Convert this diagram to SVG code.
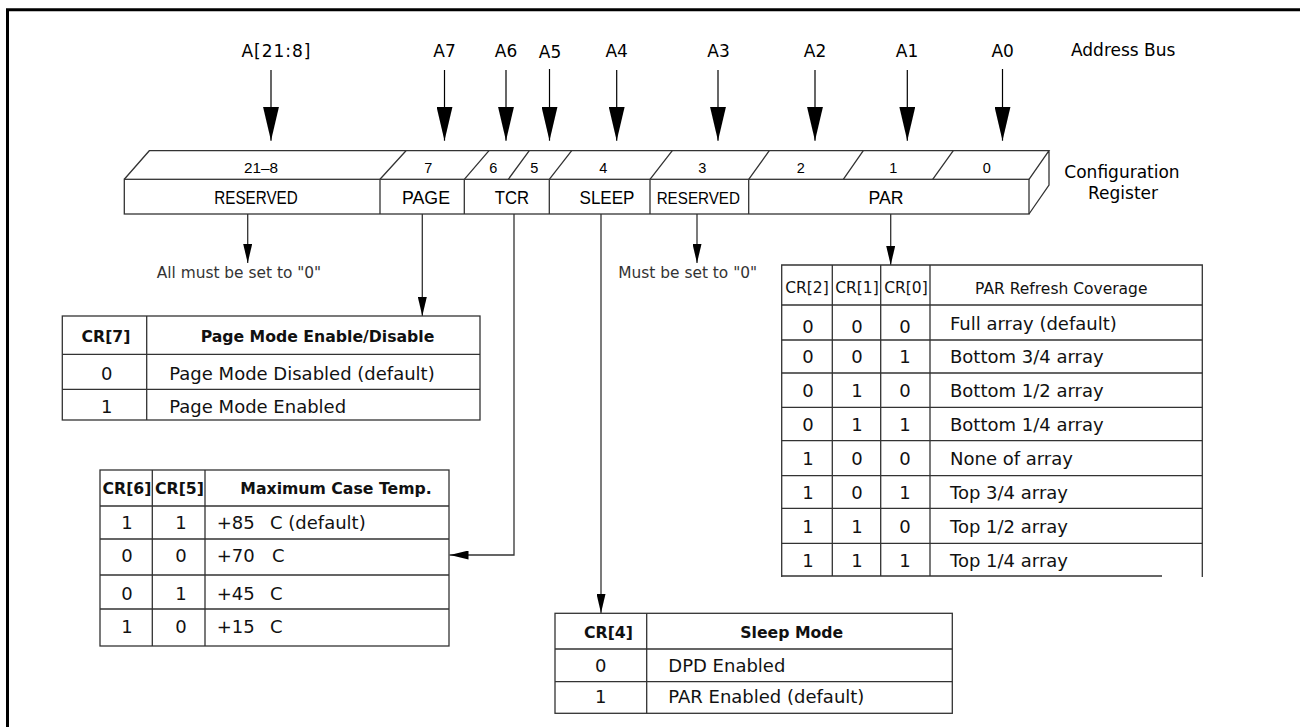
<svg xmlns="http://www.w3.org/2000/svg" width="1300" height="727" viewBox="0 0 1300 727">
<defs>
<marker id="bigArrow" markerUnits="userSpaceOnUse" viewBox="0 0 34 16" refX="34" refY="8" markerWidth="34" markerHeight="16" orient="auto"><path d="M0,0 L34,8 L0,16 z" fill="#000"/></marker>
<marker id="smallArrow" markerUnits="userSpaceOnUse" viewBox="0 0 19 9" refX="19" refY="4.5" markerWidth="19" markerHeight="9" orient="auto"><path d="M0,0 L19,4.5 L0,9 z" fill="#000"/></marker>
</defs>
<style>
.addr{font-family:"DejaVu Sans",Verdana,sans-serif;font-size:17px;fill:#000;text-anchor:middle}
.reg{font-family:"Liberation Sans Narrow","Liberation Sans",Arial,sans-serif;fill:#000;text-anchor:middle}
.bit{font-size:14.5px}
.lbl{font-size:18.6px}
.lbls{font-size:16.3px}
.t{font-family:"DejaVu Sans",Verdana,sans-serif;font-size:18px;fill:#111}
.th{font-family:"DejaVu Sans",Verdana,sans-serif;font-size:15.7px;font-weight:bold;fill:#111}
.tr{font-family:"DejaVu Sans",Verdana,sans-serif;font-size:15.5px;fill:#111}
.c{text-anchor:middle}
.note{font-family:"DejaVu Sans",Verdana,sans-serif;font-size:15.4px;fill:#333}
.grid{fill:none;stroke:#333;stroke-width:1.3}
.wire{fill:none;stroke:#333;stroke-width:1.3;marker-end:url(#smallArrow)}
.bus{fill:none;stroke:#000;stroke-width:1.2;marker-end:url(#bigArrow)}
</style>
<rect x="0" y="0" width="1300" height="727" fill="#fff"/>
<path d="M7.5,727 V9.7 H1300" fill="none" stroke="#000" stroke-width="3"/>

<g id="address-bus">
<text class="addr" x="276" y="56.7" textLength="69">A[21:8]</text>
<text class="addr" x="444.5" y="56.7">A7</text>
<text class="addr" x="506" y="56.7">A6</text>
<text class="addr" x="550" y="57.7">A5</text>
<text class="addr" x="616.7" y="56.7">A4</text>
<text class="addr" x="718.5" y="56.7">A3</text>
<text class="addr" x="815" y="56.7">A2</text>
<text class="addr" x="907" y="56.7">A1</text>
<text class="addr" x="1002.7" y="56.7">A0</text>
<text class="addr" x="1071" y="56" style="text-anchor:start">Address Bus</text>
</g>

<g id="config-register">
<rect class="grid" x="124.3" y="179.3" width="904.7" height="34.7"/>
<path class="grid" d="M124.3,179.3 L149.3,150.7 H1049 L1029,179.3 M1049,150.7 V185 L1029,214"/>
<path class="grid" d="M380,179.3 L406,150.7 M464.3,179.3 L489,150.7 M508.3,179.3 L529.3,150.7 M549.3,179.3 L571.7,150.7 M650,179.3 L672.3,150.7 M748.7,179.3 L769.3,150.7 M843.3,179.3 L863.3,150.7 M932.7,179.3 L953.3,150.7"/>
<path class="grid" d="M380,179.3 V214 M464.3,179.3 V214 M549.3,179.3 V214 M650,179.3 V214 M748.7,179.3 V214"/>
<text class="reg bit" x="261" y="173.3" textLength="34" lengthAdjust="spacingAndGlyphs">21–8</text>
<text class="reg bit" x="428.3" y="173.3">7</text>
<text class="reg bit" x="493.3" y="173.3">6</text>
<text class="reg bit" x="534.3" y="173.3">5</text>
<text class="reg bit" x="603.3" y="173.3">4</text>
<text class="reg bit" x="702.3" y="173.3">3</text>
<text class="reg bit" x="800.7" y="173.3">2</text>
<text class="reg bit" x="893.3" y="173.3">1</text>
<text class="reg bit" x="986.7" y="173.3">0</text>
<text class="reg lbl" x="256" y="204" textLength="83.4" lengthAdjust="spacingAndGlyphs">RESERVED</text>
<text class="reg lbl" x="426" y="204" textLength="48" lengthAdjust="spacingAndGlyphs">PAGE</text>
<text class="reg lbl" x="512" y="204" textLength="34.3" lengthAdjust="spacingAndGlyphs">TCR</text>
<text class="reg lbl" x="607" y="204" textLength="55" lengthAdjust="spacingAndGlyphs">SLEEP</text>
<text class="reg lbls" x="698.3" y="204" textLength="83.3" lengthAdjust="spacingAndGlyphs">RESERVED</text>
<text class="reg lbl" x="886" y="204" textLength="35" lengthAdjust="spacingAndGlyphs">PAR</text>
<text class="addr" x="1122" y="177.7">Configuration</text>
<text class="addr" x="1123" y="199">Register</text>
</g>

<g id="connectors">
<path class="bus" d="M271,70 V140.7"/>
<path class="bus" d="M444.5,70 V140.7"/>
<path class="bus" d="M506,70 V140.7"/>
<path class="bus" d="M549.5,69 V140.7"/>
<path class="bus" d="M616.7,70 V140.7"/>
<path class="bus" d="M718,70 V140.7"/>
<path class="bus" d="M815,70 V140.7"/>
<path class="bus" d="M907.3,70 V140.7"/>
<path class="bus" d="M1002.5,69 V140.7"/>
<path class="wire" d="M247.7,214 V263"/>
<path class="wire" d="M422.3,214 V316"/>
<path class="wire" d="M514,214 V555 H449.5"/>
<path class="wire" d="M601,214 V613"/>
<path class="wire" d="M697,214 V263"/>
<path class="wire" d="M890.7,214 V265"/>
</g>

<g id="note-reserved-high">
<text class="note" x="156.7" y="278.3">All must be set to "0"</text>
</g>
<g id="note-reserved-bit3">
<text class="note" x="618.3" y="278">Must be set to "0"</text>
</g>

<g id="table-page-mode">
<rect class="grid" x="62.3" y="316" width="417.7" height="104"/>
<path class="grid" d="M62.3,354.3 H480 M62.3,389.3 H480 M146.7,316 V420"/>
<text class="th c" x="106" y="341.7">CR[7]</text>
<text class="th c" x="317.5" y="341.7">Page Mode Enable/Disable</text>
<text class="t c" x="106.7" y="380">0</text>
<text class="t" x="169.3" y="380">Page Mode Disabled (default)</text>
<text class="t c" x="106.7" y="412.7">1</text>
<text class="t" x="169.3" y="412.7">Page Mode Enabled</text>
</g>

<g id="table-tcr">
<rect class="grid" x="100" y="470" width="349" height="176"/>
<path class="grid" d="M100,506 H449 M100,539 H449 M100,575 H449 M100,609 H449 M152.3,470 V646 M205,470 V646"/>
<text class="th c" x="127" y="494">CR[6]</text>
<text class="th c" x="179.5" y="494">CR[5]</text>
<text class="th c" x="336" y="494">Maximum Case Temp.</text>
<text class="t c" x="127" y="528.5">1</text>
<text class="t c" x="181" y="528.5">1</text>
<text class="t" x="216.7" y="528.5">+85<tspan x="270">C (default)</tspan></text>
<text class="t c" x="127" y="561.5">0</text>
<text class="t c" x="181" y="561.5">0</text>
<text class="t" x="216.7" y="561.5">+70<tspan x="272">C</tspan></text>
<text class="t c" x="127" y="600">0</text>
<text class="t c" x="181" y="600">1</text>
<text class="t" x="216.7" y="600">+45<tspan x="270">C</tspan></text>
<text class="t c" x="127" y="633">1</text>
<text class="t c" x="181" y="633">0</text>
<text class="t" x="216.7" y="633">+15<tspan x="270">C</tspan></text>
</g>

<g id="table-sleep">
<rect class="grid" x="555" y="613.3" width="397.3" height="100"/>
<path class="grid" d="M555,649 H952.3 M555,681.7 H952.3 M646.7,613.3 V713.3"/>
<text class="th c" x="608.5" y="638.3">CR[4]</text>
<text class="th c" x="791.7" y="638.3">Sleep Mode</text>
<text class="t c" x="600.7" y="671.7">0</text>
<text class="t" x="668.3" y="671.7">DPD Enabled</text>
<text class="t c" x="600.7" y="703.3">1</text>
<text class="t" x="668.3" y="703.3">PAR Enabled (default)</text>
</g>

<g id="table-par">
<path class="grid" d="M781.7,577 V265 H1202.3 V577 M781.7,576 H1162"/>
<path class="grid" d="M781.7,305 H1202.3 M781.7,340 H1202.3 M781.7,373 H1202.3 M781.7,407.3 H1202.3 M781.7,440.7 H1202.3 M781.7,475.7 H1202.3 M781.7,508.3 H1202.3 M781.7,543.3 H1202.3 M832.3,265 V576 M880.7,265 V576 M930,265 V576"/>
<text class="tr c" x="807" y="292.7">CR[2]</text>
<text class="tr c" x="857" y="292.7">CR[1]</text>
<text class="tr c" x="906" y="292.7">CR[0]</text>
<text class="tr c" x="1061.3" y="294.3">PAR Refresh Coverage</text>
<text class="t c" x="808" y="333">0</text><text class="t c" x="857" y="333">0</text><text class="t c" x="905" y="333">0</text>
<text class="t" x="950" y="329.5">Full array (default)</text>
<text class="t c" x="808" y="363.3">0</text><text class="t c" x="857" y="363.3">0</text><text class="t c" x="905" y="363.3">1</text>
<text class="t" x="950" y="363.3">Bottom 3/4 array</text>
<text class="t c" x="808" y="396.7">0</text><text class="t c" x="857" y="396.7">1</text><text class="t c" x="905" y="396.7">0</text>
<text class="t" x="950" y="396.7">Bottom 1/2 array</text>
<text class="t c" x="808" y="430.7">0</text><text class="t c" x="857" y="430.7">1</text><text class="t c" x="905" y="430.7">1</text>
<text class="t" x="950" y="430.7">Bottom 1/4 array</text>
<text class="t c" x="808" y="465">1</text><text class="t c" x="857" y="465">0</text><text class="t c" x="905" y="465">0</text>
<text class="t" x="950" y="465">None of array</text>
<text class="t c" x="808" y="499.3">1</text><text class="t c" x="857" y="499.3">0</text><text class="t c" x="905" y="499.3">1</text>
<text class="t" x="950" y="499.3">Top 3/4 array</text>
<text class="t c" x="808" y="533.3">1</text><text class="t c" x="857" y="533.3">1</text><text class="t c" x="905" y="533.3">0</text>
<text class="t" x="950" y="533.3">Top 1/2 array</text>
<text class="t c" x="808" y="567.3">1</text><text class="t c" x="857" y="567.3">1</text><text class="t c" x="905" y="567.3">1</text>
<text class="t" x="950" y="567.3">Top 1/4 array</text>
</g>
</svg>
